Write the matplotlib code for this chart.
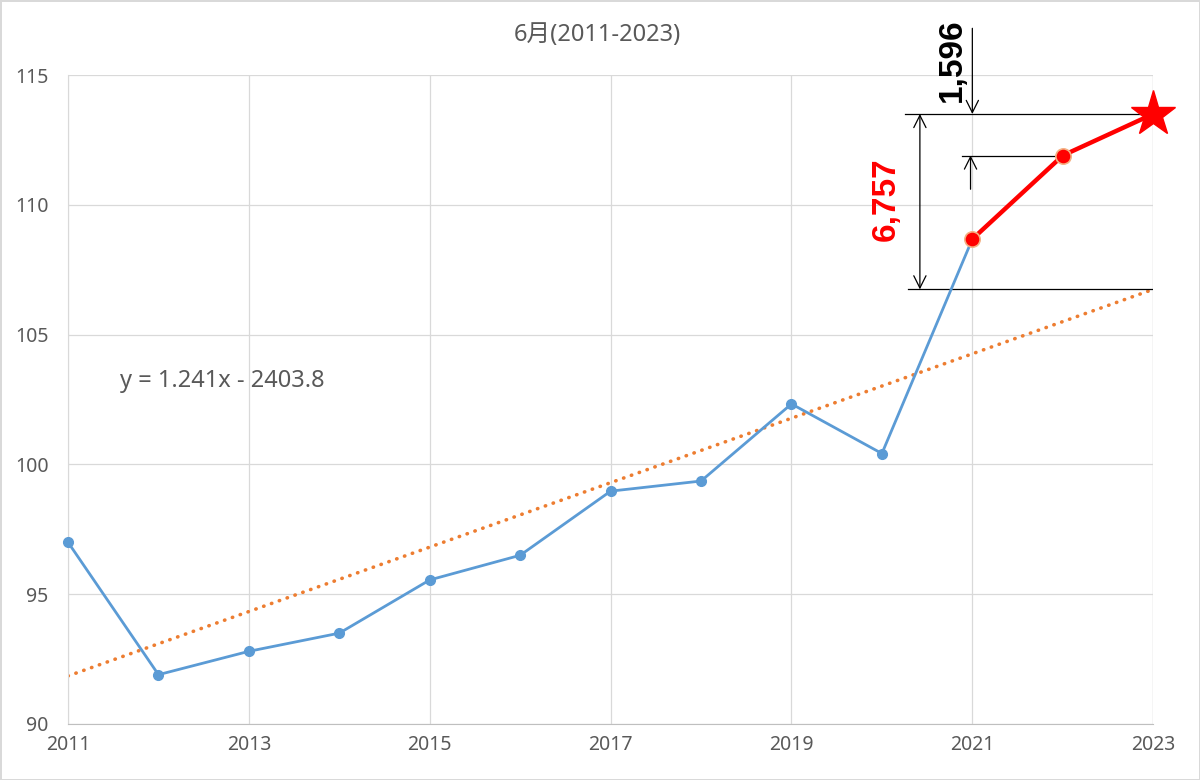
import matplotlib.pyplot as plt
import numpy as np

plt.rcParams['font.family'] = ['Noto Sans', 'Noto Sans CJK JP', 'DejaVu Sans']

years = np.array([2011, 2012, 2013, 2014, 2015, 2016, 2017, 2018, 2019, 2020, 2021, 2022, 2023])
values = np.array([97.0, 91.9, 92.8, 93.5, 95.55, 96.5, 98.97, 99.36, 102.33, 100.42, 108.68, 111.9, 113.5])
slope = 1.241
intercept = -2403.8
gap_trend = '6,757'
gap_last = '1,596'
title = '6月(2011-2023)'
eq_text = 'y = 1.241x - 2403.8'

blue = '#5B9BD5'
orange = '#ED7D31'
grid_c = '#D9D9D9'
txt_c = '#595959'

fig = plt.figure(figsize=(12, 7.8), dpi=100)
fig.patch.set_edgecolor('#D9D9D9')
fig.patch.set_linewidth(2)
ax = fig.add_axes([0.0567, 0.0718, 0.9043, 0.832])

# blue series up to 2021
ax.plot(years[:11], values[:11], color=blue, lw=2, marker='o', ms=7, zorder=3, clip_on=False)
# red part 2021-2023
ax.plot(years[10:], values[10:], color='red', lw=3.2, zorder=4)
ax.plot(years[10:12], values[10:12], 'o', color='red', mec='#F4B183', mew=1.2, ms=11, zorder=5)
ax.plot(years[12], values[12], '*', color='red', ms=34, zorder=5, clip_on=False)

# trend line
trend = slope * years + intercept
ax.plot(years, trend, color=orange, lw=2.6, ls=(0, (0.1, 2.2)), dash_capstyle='round', zorder=2)

ax.set_xlim(2011, 2023)
ax.set_ylim(90, 115)
ax.set_xticks(np.arange(2011, 2024, 2))
ax.set_yticks(np.arange(90, 116, 5))
ax.grid(True, color=grid_c, lw=0.9)
ax.axvline(2023, color=grid_c, lw=0.9)
for s in ['top', 'right']:
    ax.spines[s].set_visible(False)
ax.spines['left'].set_color(grid_c)
ax.spines['bottom'].set_color('#BFBFBF')
ax.tick_params(length=0, labelsize=14, colors=txt_c, pad=8)
ax.tick_params(axis='y', pad=14)
ax.set_axisbelow(True)

fig.text(0.498, 0.955, title, fontsize=17, color=txt_c, ha='center', va='center')
ax.text(2011.58, 103.2, eq_text, fontsize=17, color=txt_c, va='center')

# annotation lines
t23 = trend[-1]
ax.plot([2020.26, 2023], [values[12], values[12]], color='black', lw=0.9)
ax.plot([2020.29, 2023], [t23, t23], color='black', lw=0.9)
ax.plot([2020.89, 2022], [values[11], values[11]], color='black', lw=0.9)
ax.annotate('', xy=(2020.42, values[12]), xytext=(2020.42, t23),
            arrowprops=dict(arrowstyle='<->', color='black', lw=0.9, shrinkA=0, shrinkB=0,
                            mutation_scale=22))
ax.annotate('', xy=(2020.98, values[11]), xytext=(2020.98, 110.6),
            arrowprops=dict(arrowstyle='->', color='black', lw=0.9, shrinkA=0, shrinkB=0,
                            mutation_scale=22))
ax.annotate('', xy=(2021.0, values[12]), xytext=(2021.0, 116.8), annotation_clip=False,
            arrowprops=dict(arrowstyle='->', color='black', lw=0.9, shrinkA=0, shrinkB=0,
                            mutation_scale=22))
ax.text(2020.05, 110.2, gap_trend, rotation=90, color='red', fontsize=24, fontweight='bold',
        family='Liberation Sans', ha='center', va='center')
ax.text(2020.78, 115.58, gap_last, rotation=90, color='black', fontsize=24, fontweight='bold',
        family='Liberation Sans', ha='center', va='center', clip_on=False)

fig.savefig('out.png', dpi=100)
